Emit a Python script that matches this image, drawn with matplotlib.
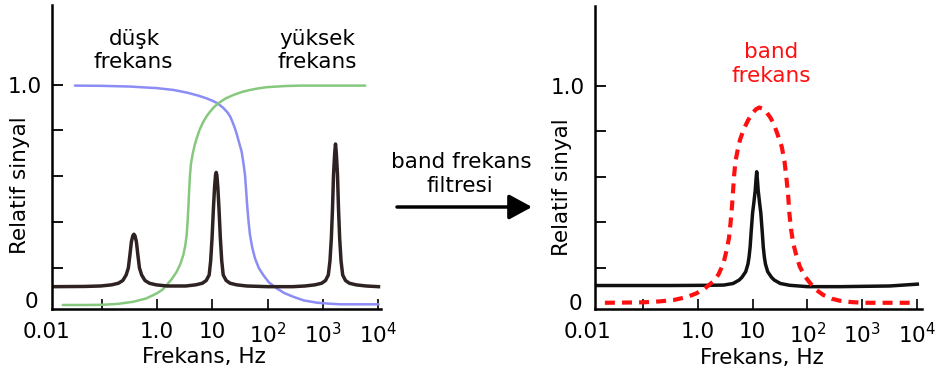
import numpy as np
import matplotlib
matplotlib.use('Agg')
import matplotlib.pyplot as plt
from matplotlib.patches import FancyArrowPatch
import matplotlib.transforms as mtransforms

plt.rcParams['font.family'] = ['DejaVu Sans']

# ---------------- data (frequency as log10 Hz, relative signal) -------------
mixed_logf = [-1.88, -1.30, -1.016, -0.816, -0.696, -0.616, -0.556, -0.516, -0.486,
              -0.461, -0.436, -0.416, -0.396, -0.371, -0.346, -0.316, -0.276, -0.216,
              -0.136, -0.016, 0.184, 0.52, 0.70, 0.82, 0.89, 0.943, 0.97, 0.995,
              1.02, 1.04, 1.058, 1.07, 1.082, 1.10, 1.12, 1.145, 1.17, 1.197, 1.25,
              1.32, 1.44, 1.62, 2.0, 2.45, 2.674, 2.854, 2.974, 3.044, 3.094, 3.124,
              3.149, 3.17, 3.188, 3.209, 3.224, 3.239, 3.26, 3.278, 3.299, 3.324,
              3.354, 3.404, 3.474, 3.594, 3.774, 4.0]
mixed_sig = [0.118, 0.119, 0.121, 0.126, 0.133, 0.145, 0.169, 0.20, 0.26,
             0.314, 0.34, 0.347, 0.34, 0.314, 0.26, 0.20, 0.169, 0.145,
             0.133, 0.126, 0.121, 0.121, 0.126, 0.133, 0.145, 0.169, 0.23, 0.33,
             0.46, 0.55, 0.605, 0.617, 0.605, 0.55, 0.46, 0.33, 0.23, 0.169, 0.145,
             0.133, 0.126, 0.121, 0.118, 0.118, 0.121, 0.126, 0.133, 0.145, 0.169, 0.23,
             0.33, 0.46, 0.606, 0.70, 0.741, 0.70, 0.606, 0.46, 0.33, 0.23,
             0.169, 0.145, 0.133, 0.126, 0.121, 0.118]

highpass_logf = [-1.70, -1.3, -0.97, -0.7, -0.43, -0.2, 0.0, 0.1, 0.175, 0.27, 0.356,
                 0.42, 0.476, 0.51, 0.537, 0.553, 0.567, 0.58, 0.597, 0.615, 0.645,
                 0.68, 0.718, 0.77, 0.837, 0.9, 0.958, 1.03, 1.109, 1.24, 1.38, 1.53,
                 1.68, 1.83, 1.98, 2.3, 2.59, 3.76]
highpass_sig = [0.038, 0.038, 0.039, 0.043, 0.052, 0.066, 0.089, 0.105, 0.125, 0.152,
                0.183, 0.215, 0.256, 0.295, 0.344, 0.40, 0.46, 0.53, 0.606, 0.655,
                0.697, 0.735, 0.766, 0.803, 0.838, 0.863, 0.882, 0.902, 0.919, 0.94,
                0.955, 0.968, 0.977, 0.984, 0.989, 0.994, 0.996, 0.996]

lowpass_logf = [-1.48, -1.0, -0.5, 0.0, 0.3, 0.55, 0.75, 0.9, 1.0, 1.1, 1.2, 1.27, 1.32,
                1.36, 1.40, 1.44, 1.48, 1.53, 1.56, 1.59, 1.61, 1.63, 1.655, 1.68, 1.72,
                1.77, 1.84, 1.92, 2.02, 2.16, 2.3, 2.46, 2.65, 2.89, 3.1, 3.31, 4.0]
lowpass_sig = [0.996, 0.995, 0.992, 0.985, 0.977, 0.965, 0.952, 0.94, 0.93, 0.918, 0.898,
               0.88, 0.862, 0.84, 0.815, 0.785, 0.75, 0.707, 0.66, 0.606, 0.54, 0.47,
               0.40, 0.344, 0.29, 0.242, 0.199, 0.169, 0.137, 0.111, 0.09, 0.074,
               0.058, 0.048, 0.044, 0.041, 0.041]

filtered_logf = [-1.84, -0.5, 0.2, 0.475, 0.645, 0.755, 0.805, 0.875, 0.915, 0.935,
                 0.955, 0.975, 1.0, 1.025, 1.048, 1.063, 1.075, 1.087, 1.102, 1.125,
                 1.15, 1.175, 1.195, 1.215, 1.235, 1.275, 1.345, 1.395, 1.505, 1.675,
                 2.0, 2.6, 3.5, 4.0]
filtered_sig = [0.121, 0.121, 0.122, 0.123, 0.13, 0.145, 0.157, 0.182, 0.215, 0.245,
                0.29, 0.36, 0.44, 0.49, 0.54, 0.59, 0.622, 0.59, 0.54, 0.49,
                0.44, 0.36, 0.29, 0.245, 0.215, 0.182, 0.157, 0.145, 0.13, 0.122,
                0.116, 0.116, 0.119, 0.127]

bandpass_logf = [-1.69, -1.3, -0.99, -0.7, -0.44, -0.2, -0.02, 0.13, 0.28, 0.38, 0.47,
                 0.53, 0.57, 0.60, 0.625, 0.645, 0.665, 0.69, 0.73, 0.77, 0.84, 0.92,
                 1.0, 1.06, 1.12, 1.19, 1.25, 1.32, 1.38, 1.45, 1.53, 1.58, 1.62, 1.65,
                 1.67, 1.70, 1.74, 1.80, 1.86, 1.95, 2.05, 2.17, 2.29, 2.44, 2.59, 2.8,
                 3.02, 3.99]
bandpass_sig = [0.045, 0.046, 0.047, 0.051, 0.057, 0.07, 0.087, 0.108, 0.138, 0.17, 0.219,
                0.28, 0.33, 0.40, 0.47, 0.54, 0.61, 0.67, 0.72, 0.762, 0.81, 0.85,
                0.880, 0.897, 0.905, 0.899, 0.885, 0.862, 0.836, 0.79, 0.733, 0.67,
                0.586, 0.51, 0.439, 0.37, 0.307, 0.25, 0.204, 0.162, 0.131, 0.10,
                0.079, 0.063, 0.054, 0.048, 0.045, 0.045]

x_tick_vals = [0.1, 1, 10, 100, 1000, 10000]
x_tick_labels = ['', '1.0', '10', '$10^2$', '$10^3$', '$10^4$']
y_tick_vals = [0.2, 0.4, 0.6, 0.8, 1.0]
y_tick_labels = ['', '', '', '', '1.0']

# ---------------- figure -----------------------------------------------------
W, H = 940, 376
fig = plt.figure(figsize=(W / 100, H / 100), dpi=100)

def px_axes(x0, y0, x1, y1):
    return fig.add_axes([x0 / W, 1 - y1 / H, (x1 - x0) / W, (y1 - y0) / H])

axL = px_axes(51.7, 5, 380.7, 309)
axR = px_axes(595, 6, 921.7, 309)

FS = 15.5

def style(ax, xlim, ylim):
    ax.set_xscale('log')
    ax.set_xlim(*xlim)
    ax.set_ylim(*ylim)
    for s in ['top', 'right']:
        ax.spines[s].set_visible(False)
    for s in ['left', 'bottom']:
        ax.spines[s].set_linewidth(1.8)
    ax.set_xticks(x_tick_vals)
    ax.set_xticklabels(x_tick_labels, fontsize=FS)
    ax.xaxis.set_minor_locator(matplotlib.ticker.NullLocator())
    ax.set_yticks(y_tick_vals)
    ax.set_yticklabels(y_tick_labels, fontsize=FS)
    ax.tick_params(axis='x', direction='in', length=7, width=1.2, pad=9)
    ax.tick_params(axis='y', direction='in', length=8, width=1.3, pad=7)
    ax.patch.set_alpha(0)
    off = mtransforms.ScaledTranslation(0, -9 / 72, fig.dpi_scale_trans)
    ax.text(0.01, 0.0, '0.01', transform=ax.get_xaxis_transform() + off,
            ha='center', va='top', fontsize=FS)

style(axL, (10 ** -1.90, 10 ** 4.04), (0.0205, 1.348))
style(axR, (10 ** -1.87, 10 ** 4.08), (0.0176, 1.352))

blend = mtransforms.blended_transform_factory
axL.text(-0.042, 0.05, '0', transform=blend(axL.transAxes, axL.transData),
         ha='right', va='center', fontsize=FS)
axR.text(-0.040, 0.04, '0', transform=blend(axR.transAxes, axR.transData),
         ha='right', va='center', fontsize=FS)

# curves
lowpass_f = [10 ** v for v in lowpass_logf]
highpass_f = [10 ** v for v in highpass_logf]
mixed_f = [10 ** v for v in mixed_logf]
filtered_f = [10 ** v for v in filtered_logf]
bandpass_f = [10 ** v for v in bandpass_logf]

axL.plot(lowpass_f, lowpass_sig, color='#8c8cf5', lw=1.8, solid_capstyle='round',
         solid_joinstyle='round')
axL.plot(highpass_f, highpass_sig, color='#86c97e', lw=1.8, solid_capstyle='round',
         solid_joinstyle='round')
axL.plot(mixed_f, mixed_sig, color='#2e2222', lw=2.5, solid_joinstyle='round')

axR.plot(filtered_f, filtered_sig, color='#111111', lw=2.5, solid_joinstyle='round')
axR.plot(bandpass_f, bandpass_sig, color='#ff1010', lw=3.0, dashes=(2.4, 1.7))

# labels
fig.text(204 / W, 1 - 363 / H, 'Frekans, Hz', ha='center', va='baseline', fontsize=FS)
fig.text(762 / W, 1 - 364 / H, 'Frekans, Hz', ha='center', va='baseline', fontsize=FS)
fig.text(20 / W, 1 - 185 / H, 'Relatif sinyal', rotation=90, ha='center', va='center', fontsize=FS)
fig.text(562 / W, 1 - 187 / H, 'Relatif sinyal', rotation=90, ha='center', va='center', fontsize=FS)

fig.text(134 / W, 1 - 45 / H, 'düşk', ha='center', va='baseline', fontsize=FS)
fig.text(133 / W, 1 - 68 / H, 'frekans', ha='center', va='baseline', fontsize=FS)
fig.text(317 / W, 1 - 45 / H, 'yüksek', ha='center', va='baseline', fontsize=FS)
fig.text(317 / W, 1 - 68 / H, 'frekans', ha='center', va='baseline', fontsize=FS)
fig.text(771 / W, 1 - 58 / H, 'band', ha='center', va='baseline', fontsize=FS, color='#ff1010')
fig.text(771 / W, 1 - 82 / H, 'frekans', ha='center', va='baseline', fontsize=FS, color='#ff1010')

fig.text(461 / W, 1 - 168 / H, 'band frekans', ha='center', va='baseline', fontsize=FS)
fig.text(460 / W, 1 - 192 / H, 'filtresi', ha='center', va='baseline', fontsize=FS)

arrow = FancyArrowPatch((397 / W, 1 - 207 / H), (532 / W, 1 - 207 / H),
                        transform=fig.transFigure,
                        arrowstyle=matplotlib.patches.ArrowStyle('-|>', head_length=0.7, head_width=0.38),
                        mutation_scale=20, lw=2.5, color='black', shrinkA=0, shrinkB=0)
fig.add_artist(arrow)

fig.savefig('out.png', dpi=100)
